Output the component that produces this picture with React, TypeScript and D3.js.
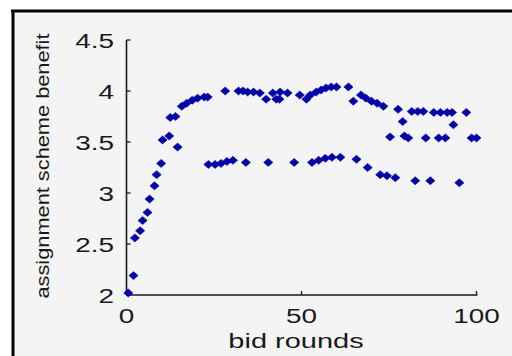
import * as d3 from "d3";

// upper branch: fast rise, plateau near 4, then the 3.8 / 3.55 rows
const upperRounds = [
  0.5, 2.0, 2.4, 3.9, 4.6, 6.0, 6.6, 8.0, 8.6, 9.9, 10.3, 12.2, 14.6, 12.5, 14.0,
  15.8, 17.2, 18.8, 20.3, 22.2, 23.2,
  28.2, 32.0, 33.3, 34.6, 36.3, 38.1, 39.9, 41.8, 42.8, 43.7, 43.9, 46.0,
  49.5, 51.4, 52.5, 54.2, 55.6, 57.0, 58.5, 60.0, 63.4, 64.8,
  67.0, 68.4, 70.0, 71.6, 73.4, 77.6, 78.9, 81.5, 83.2, 84.8,
  87.8, 89.7, 91.6, 93.0, 93.4, 97.1,
];
const upperBenefit = [
  2.02, 2.19, 2.56, 2.63, 2.73, 2.81, 2.94, 3.07, 3.18, 3.29, 3.52, 3.56, 3.45, 3.74, 3.75,
  3.85, 3.88, 3.91, 3.93, 3.94, 3.94,
  4.0, 4.0, 4.0, 3.99, 3.99, 3.98, 3.92, 3.98, 3.92, 3.92, 3.99, 3.98,
  3.96, 3.92, 3.96, 3.99, 4.01, 4.03, 4.04, 4.04, 4.04, 3.9,
  3.96, 3.93, 3.9, 3.88, 3.85, 3.82, 3.7, 3.8, 3.8, 3.8,
  3.79, 3.79, 3.79, 3.79, 3.67, 3.79,
];

const midRounds = [75.3, 79.4, 80.5, 85.5, 89.2, 91.1, 98.6, 100.0];
const midBenefit = [3.55, 3.56, 3.54, 3.54, 3.54, 3.54, 3.54, 3.54];

// lower branch around 3.3
const lowerRounds = [
  23.4, 25.3, 27.0, 28.7, 30.4, 34.1, 40.5, 47.9, 53.0, 54.9, 56.8, 58.7, 61.1,
  65.7, 68.9, 72.5, 74.4, 76.8, 82.5, 86.8, 95.1,
];
const lowerBenefit = [
  3.28, 3.28, 3.29, 3.31, 3.32, 3.3, 3.3, 3.3, 3.3, 3.32, 3.34, 3.35, 3.35,
  3.33, 3.25, 3.18, 3.17, 3.15, 3.12, 3.12, 3.1,
];

const xTicks = [0, 50, 100];
const yTicks = [2, 2.5, 3, 3.5, 4, 4.5];

const W = 512;
const H = 356;

export default function App() {
  const x = d3.scaleLinear().domain([0, 100]).range([126.5, 476.5]);
  const y = d3.scaleLinear().domain([2, 4.5]).range([295, 40]);

  const pts: [number, number][] = [];
  upperRounds.forEach((r, i) => pts.push([r, upperBenefit[i]]));
  midRounds.forEach((r, i) => pts.push([r, midBenefit[i]]));
  lowerRounds.forEach((r, i) => pts.push([r, lowerBenefit[i]]));

  const diamond = "M0,-4L4.6,0L0,4L-4.6,0Z";
  const font = "'Liberation Sans', Arial, sans-serif";
  const ink = "#1a1a1a";

  return (
    <svg
      width={W}
      height={H}
      style={{ position: "absolute", left: 0, top: 0, background: "#fff" }}
    >
      {/* figure frame, cropped at right and bottom */}
      <rect x={12} y={10} width={W} height={H} fill="#f4f4f4" />
      <line x1={11} x2={W} y1={11} y2={11} stroke="#000" strokeWidth={3} />
      <line x1={13} x2={13} y1={10} y2={H} stroke="#000" strokeWidth={3} />

      {/* axes */}
      <line x1={x(0)} x2={x(0)} y1={y(4.5)} y2={y(2)} stroke={ink} strokeWidth={1.6} />
      <line x1={x(0)} x2={x(100) + 1} y1={y(2)} y2={y(2)} stroke={ink} strokeWidth={1.6} />

      {yTicks.map((t) => (
        <g key={"y" + t}>
          <line x1={x(0)} x2={x(0) + 4} y1={y(t)} y2={y(t)} stroke={ink} strokeWidth={1.3} />
          <g transform={`translate(114,${y(t) + 7.5}) scale(1.33,1)`}>
            <text textAnchor="end" fontFamily={font} fontSize={21} fill={ink}>
              {t}
            </text>
          </g>
        </g>
      ))}

      {xTicks.map((t) => (
        <g key={"x" + t}>
          <line x1={x(t)} x2={x(t)} y1={y(2)} y2={y(2) - 4} stroke={ink} strokeWidth={1.3} />
          <g transform={`translate(${x(t)},323) scale(1.33,1)`}>
            <text textAnchor="middle" fontFamily={font} fontSize={21} fill={ink}>
              {t}
            </text>
          </g>
        </g>
      ))}

      <g transform="translate(296,348) scale(1.38,1)">
        <text textAnchor="middle" fontFamily={font} fontSize={21} fill={ink}>
          bid rounds
        </text>
      </g>
      <g transform="translate(49,166) rotate(-90) scale(1.21,1)">
        <text textAnchor="middle" fontFamily={font} fontSize={18} fill={ink}>
          assignment scheme benefit
        </text>
      </g>

      {pts.map(([r, b], i) => (
        <path
          key={i}
          d={diamond}
          transform={`translate(${x(r)},${y(b)})`}
          fill="#0000b8"
          stroke="#00008a"
          strokeWidth={0.6}
        />
      ))}
    </svg>
  );
}
